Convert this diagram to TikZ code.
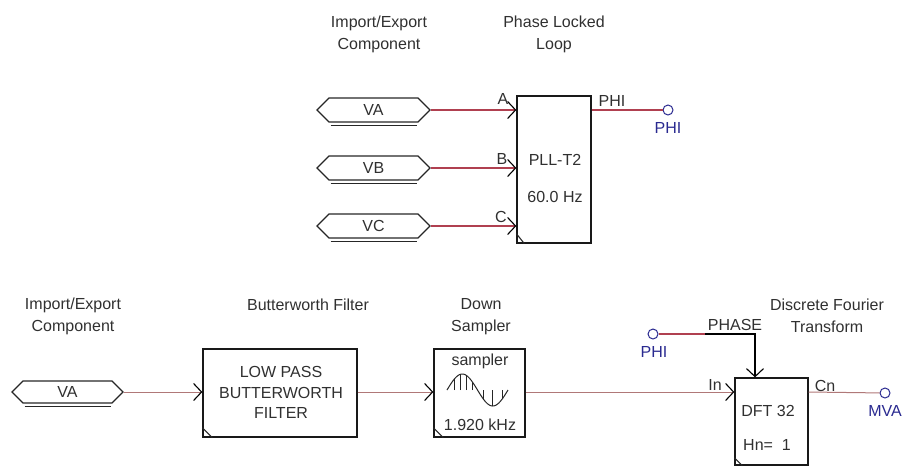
\documentclass[tikz,border=0pt]{standalone}
\usepackage{fontspec}
\setmainfont{Liberation Sans}
\usetikzlibrary{arrows.meta,shapes.symbols}
\definecolor{wire}{HTML}{B04050}
\definecolor{wirelight}{HTML}{B07878}
\definecolor{bluelbl}{HTML}{2A2A90}
\definecolor{txt}{HTML}{303030}
\tikzset{
  lbl/.style={font=\fontsize{16}{22}\selectfont,text=txt,inner sep=0pt,align=center},
  bluetext/.style={font=\fontsize{16}{22}\selectfont,text=bluelbl,inner sep=0pt},
  hexa/.style={signal,signal to=east and west,signal pointer angle=90,draw=black!85,line width=1.1pt,
    minimum height=24pt,inner sep=0pt,font=\fontsize{16}{18}\selectfont,text=txt},
  blockbox/.style={draw=black!90,line width=1.3pt,inner sep=0pt,fill=white},
  term/.style={circle,draw=bluelbl,line width=1pt,minimum size=10pt,inner sep=0pt},
  wireline/.style={draw=wire,line width=1.1pt},
  wirepale/.style={draw=wirelight,line width=1pt},
  barb/.style={-{Straight Barb[length=8pt,width=17pt,color=black,line width=1.1pt]}},
  tick/.style={draw=black!85,line width=1.1pt},
  extra/.style={draw=black!85,line width=1.1pt},
}
\begin{document}
\begin{tikzpicture}[x=1pt,y=-1pt]
\useasboundingbox (0,0) rectangle (904,466);
% titles top
\node[lbl] (t1) at (379,34.5) {Import/Export\\Component};
\node[lbl] (t2) at (554,34.5) {Phase Locked\\Loop};
% top hexagons
\node[hexa,minimum width=113pt] (va) at (373.5,110) {VA};
\node[hexa,minimum width=113pt] (vb) at (373.5,168) {VB};
\node[hexa,minimum width=113pt] (vc) at (373.5,226) {VC};
\foreach \h in {va,vb,vc}
  \draw[extra] ([xshift=-43pt,yshift=-2.5pt]\h.south) -- ([xshift=43pt,yshift=-2.5pt]\h.south);
% PLL
\node[blockbox,minimum width=74pt,minimum height=147pt] (pll) at (554,169.5) {};
\node[lbl] (pllt) at (555,160) {PLL-T2};
\node[lbl] (pllf) at (555,197) {60.0 Hz};
\coordinate (pa) at (pll.west |- va.east);
\coordinate (pb) at (pll.west |- vb.east);
\coordinate (pc) at (pll.west |- vc.east);
\coordinate (po) at (pll.east |- va.east);
\draw[wireline,barb] (va.east) -- (pa);
\draw[wireline,barb] (vb.east) -- (pb);
\draw[wireline,barb] (vc.east) -- (pc);
\node[lbl] (la) at (503,99) {A};
\node[lbl] (lb) at (502,159) {B};
\node[lbl] (lc) at (501,217) {C};
\draw[tick] ([yshift=10pt]pll.south west) -- ([xshift=8pt]pll.south west);
\node[term] (phi1) at (668,110) {};
\draw[wireline] (po) -- (phi1);
\node[lbl] (lphi) at (612,101) {PHI};
\node[bluetext] (bphi1) at (668,128) {PHI};
% bottom titles
\node[lbl] (t3) at (73,316) {Import/Export\\Component};
\node[lbl] (t4) at (308,305) {Butterworth Filter};
\node[lbl] (t5) at (481,316.5) {Down\\Sampler};
\node[lbl] (t6) at (827,316) {Discrete Fourier\\Transform};
% bottom row
\node[hexa,minimum width=111pt,minimum height=22pt] (vab) at (67.5,392) {VA};
\draw[extra] ([xshift=-43pt,yshift=-2.5pt]vab.south) -- ([xshift=43pt,yshift=-2.5pt]vab.south);
\node[blockbox,minimum width=154pt,minimum height=88pt] (bw) at (280,393) {};
\node[lbl,font=\fontsize{16}{20.5}\selectfont] (bwt) at (281,392.5) {LOW PASS\\BUTTERWORTH\\FILTER};
\draw[tick] ([yshift=10pt]bw.south west) -- ([xshift=10pt]bw.south west);
\node[blockbox,minimum width=91pt,minimum height=88pt] (smp) at (479.5,393) {};
\node[lbl] (smpt) at (480,361) {sampler};
\node[lbl] (smpf) at (480,425) {1.920 kHz};
\draw[tick] ([yshift=10pt]smp.south west) -- ([xshift=10pt]smp.south west);
\draw[black!85,line width=1pt,domain=0:360,samples=60,smooth]
  plot ({447+\x/360*61},{390-16*sin(\x)});
\foreach \a in {45,80,115,150,215,270,325}
  \draw[black!85,line width=1pt] ({447+\a/360*61},390) -- ({447+\a/360*61},{390-16*sin(\a)});
\node[blockbox,minimum width=73pt,minimum height=87pt] (dft) at (771.5,421.5) {};
\node[lbl] (dftt) at (768,411) {DFT 32};
\node[lbl] (dftn) at (767,445) {Hn=\ \ 1};
\draw[tick] ([yshift=8pt]dft.south west) -- ([xshift=8pt]dft.south west);
\coordinate (bwin) at (bw.west |- vab.east);
\draw[wirepale,barb] (vab.east) -- (bwin);
\coordinate (bwout) at (bw.east |- bwin);
\coordinate (smin) at (smp.west |- bwin);
\draw[wirepale,barb] (bwout) -- (smin);
\coordinate (smout) at (smp.east |- bwin);
\coordinate (din) at (dft.west |- bwin);
\draw[wirepale,barb] (smout) -- (din);
\coordinate (dout) at (dft.east |- bwin);
\node[term] (mva) at (885,393) {};
\draw[wirepale] (dout) -- (mva);
\node[lbl] (lin) at (715,385) {In};
\node[lbl] (lcn) at (825,386) {Cn};
\node[bluetext] (bmva) at (885,411) {MVA};
\node[term] (phi2) at (653,334) {};
\node[bluetext] (bphi2) at (654,352) {PHI};
\coordinate (mid) at (705,334);
\coordinate (bend) at (755,334);
\coordinate (dtop) at (dft.north -| bend);
\draw[wireline] (phi2) -- (mid);
\draw[black,line width=1.1pt,barb] (mid) -- (bend) -- (dtop);
\node[lbl] (lph) at (735,325) {PHASE};
\end{tikzpicture}
\end{document}
